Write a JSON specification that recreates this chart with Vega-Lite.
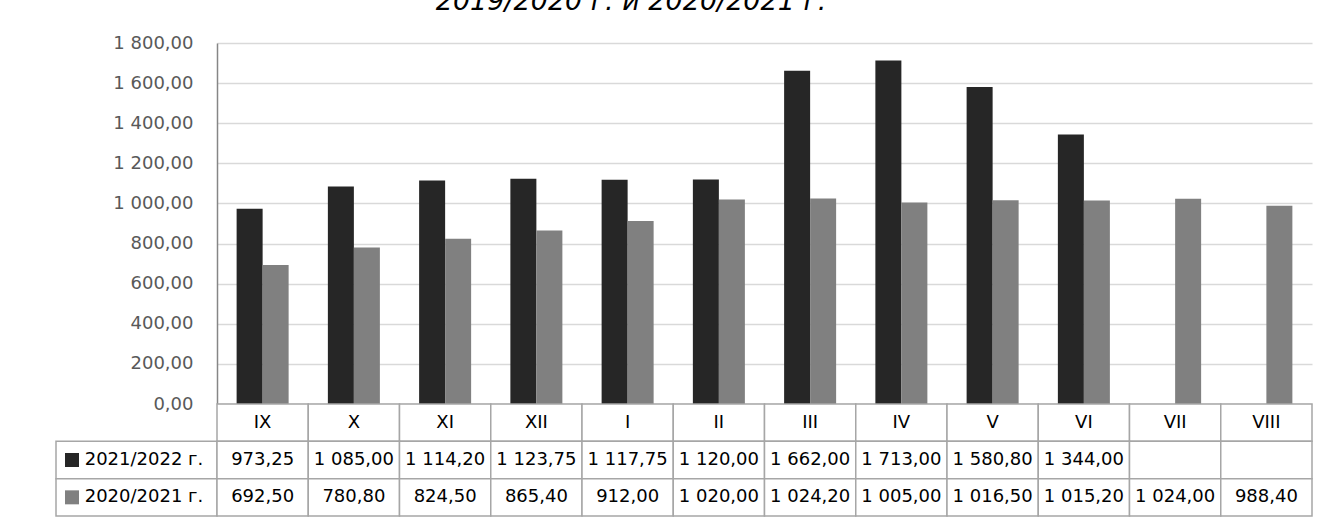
{
  "$schema": "https://vega.github.io/schema/vega-lite/v6.json",
  "padding": {"left": 55, "top": -12, "right": 17, "bottom": 8},
  "title": {
    "text": "2019/2020 г. и 2020/2021 г.",
    "font": "DejaVu Sans",
    "fontSize": 27,
    "fontStyle": "italic",
    "fontWeight": "normal",
    "color": "#000000",
    "anchor": "middle",
    "baseline": "alphabetic",
    "dx": -53,
    "offset": -3
  },
  "datasets": {
    "months": [
      {"month": "IX"}, {"month": "X"}, {"month": "XI"}, {"month": "XII"},
      {"month": "I"}, {"month": "II"}, {"month": "III"}, {"month": "IV"},
      {"month": "V"}, {"month": "VI"}, {"month": "VII"}, {"month": "VIII"}
    ],
    "series": [
      {"series": "2021/2022 г."},
      {"series": "2020/2021 г."}
    ],
    "vals": [
      {"month": "IX", "series": "2021/2022 г.", "value": 973.25},
      {"month": "X", "series": "2021/2022 г.", "value": 1085.00},
      {"month": "XI", "series": "2021/2022 г.", "value": 1114.20},
      {"month": "XII", "series": "2021/2022 г.", "value": 1123.75},
      {"month": "I", "series": "2021/2022 г.", "value": 1117.75},
      {"month": "II", "series": "2021/2022 г.", "value": 1120.00},
      {"month": "III", "series": "2021/2022 г.", "value": 1662.00},
      {"month": "IV", "series": "2021/2022 г.", "value": 1713.00},
      {"month": "V", "series": "2021/2022 г.", "value": 1580.80},
      {"month": "VI", "series": "2021/2022 г.", "value": 1344.00},
      {"month": "VII", "series": "2021/2022 г.", "value": null},
      {"month": "VIII", "series": "2021/2022 г.", "value": null},
      {"month": "IX", "series": "2020/2021 г.", "value": 692.50},
      {"month": "X", "series": "2020/2021 г.", "value": 780.80},
      {"month": "XI", "series": "2020/2021 г.", "value": 824.50},
      {"month": "XII", "series": "2020/2021 г.", "value": 865.40},
      {"month": "I", "series": "2020/2021 г.", "value": 912.00},
      {"month": "II", "series": "2020/2021 г.", "value": 1020.00},
      {"month": "III", "series": "2020/2021 г.", "value": 1024.20},
      {"month": "IV", "series": "2020/2021 г.", "value": 1005.00},
      {"month": "V", "series": "2020/2021 г.", "value": 1016.50},
      {"month": "VI", "series": "2020/2021 г.", "value": 1015.20},
      {"month": "VII", "series": "2020/2021 г.", "value": 1024.00},
      {"month": "VIII", "series": "2020/2021 г.", "value": 988.40}
    ]
  },
  "columns": 2,
  "spacing": 0,
  "bounds": "flush",
  "align": "each",
  "concat": [
    {
      "width": 161,
      "height": 361,
      "data": {"values": []},
      "mark": "point"
    },
    {
      "width": 1095,
      "height": 361,
      "data": {"name": "vals"},
      "mark": {"type": "bar"},
      "encoding": {
        "x": {
          "field": "month",
          "type": "nominal",
          "sort": ["IX", "X", "XI", "XII", "I", "II", "III", "IV", "V", "VI", "VII", "VIII"],
          "scale": {"paddingInner": 0.43, "paddingOuter": 0.215},
          "axis": null
        },
        "xOffset": {
          "field": "series",
          "type": "nominal",
          "sort": ["2021/2022 г.", "2020/2021 г."],
          "scale": {"paddingInner": 0, "paddingOuter": 0}
        },
        "y": {
          "field": "value",
          "type": "quantitative",
          "scale": {"domain": [0, 1800], "nice": false},
          "axis": {
            "title": null,
            "values": [0, 200, 400, 600, 800, 1000, 1200, 1400, 1600, 1800],
            "format": ",.2f",
            "grid": true,
            "gridColor": "#d9d9d9",
            "gridWidth": 1.5,
            "ticks": false,
            "domainColor": "#868686",
            "domainWidth": 1.5,
            "labelFont": "DejaVu Sans",
            "labelFontSize": 18,
            "labelColor": "#595959",
            "labelPadding": 24
          }
        },
        "color": {
          "field": "series",
          "type": "nominal",
          "scale": {"domain": ["2021/2022 г.", "2020/2021 г."], "range": ["#262626", "#808080"]},
          "legend": null
        }
      }
    },
    {
      "width": 161,
      "height": 112,
      "data": {"name": "series"},
      "encoding": {
        "y": {
          "field": "series",
          "type": "nominal",
          "scale": {"domain": ["месяц", "2021/2022 г.", "2020/2021 г."], "paddingInner": 0, "paddingOuter": 0},
          "axis": null
        }
      },
      "layer": [
        {"mark": {"type": "rect", "fill": "white", "stroke": "#a6a6a6", "strokeWidth": 1.5}},
        {
          "mark": {"type": "point", "shape": "square", "filled": true, "size": 196, "opacity": 1, "xOffset": -64.5},
          "encoding": {
            "color": {
              "field": "series",
              "type": "nominal",
              "scale": {"domain": ["2021/2022 г.", "2020/2021 г."], "range": ["#262626", "#808080"]},
              "legend": null
            }
          }
        },
        {
          "mark": {"type": "text", "font": "DejaVu Sans", "fontSize": 18, "color": "#000000", "dx": 7.5},
          "encoding": {"text": {"field": "series"}}
        }
      ]
    },
    {
      "width": 1095,
      "height": 112,
      "layer": [
        {
          "data": {"name": "months"},
          "mark": {"type": "rect", "fill": "white", "stroke": "#a6a6a6", "strokeWidth": 1.5},
          "encoding": {
            "x": {"field": "month", "type": "nominal", "sort": ["IX", "X", "XI", "XII", "I", "II", "III", "IV", "V", "VI", "VII", "VIII"], "scale": {"paddingInner": 0, "paddingOuter": 0}, "axis": null},
            "y": {"datum": "месяц", "type": "nominal", "scale": {"domain": ["месяц", "2021/2022 г.", "2020/2021 г."], "paddingInner": 0, "paddingOuter": 0}, "axis": null}
          }
        },
        {
          "data": {"name": "months"},
          "mark": {"type": "text", "font": "DejaVu Sans", "fontSize": 18, "color": "#000000"},
          "encoding": {
            "x": {"field": "month", "type": "nominal", "sort": ["IX", "X", "XI", "XII", "I", "II", "III", "IV", "V", "VI", "VII", "VIII"]},
            "y": {"datum": "месяц", "type": "nominal"},
            "text": {"field": "month"}
          }
        },
        {
          "data": {"name": "vals"},
          "mark": {"type": "rect", "fill": "white", "stroke": "#a6a6a6", "strokeWidth": 1.5},
          "encoding": {
            "x": {"field": "month", "type": "nominal", "sort": ["IX", "X", "XI", "XII", "I", "II", "III", "IV", "V", "VI", "VII", "VIII"]},
            "y": {"field": "series", "type": "nominal"}
          }
        },
        {
          "data": {"name": "vals"},
          "transform": [{"filter": "isValid(datum.value)"}],
          "mark": {"type": "text", "font": "DejaVu Sans", "fontSize": 18, "color": "#000000"},
          "encoding": {
            "x": {"field": "month", "type": "nominal", "sort": ["IX", "X", "XI", "XII", "I", "II", "III", "IV", "V", "VI", "VII", "VIII"]},
            "y": {"field": "series", "type": "nominal"},
            "text": {"field": "value", "type": "quantitative", "format": ",.2f"}
          }
        }
      ]
    }
  ],
  "config": {
    "view": {"stroke": null},
    "locale": {
      "number": {"decimal": ",", "thousands": " ", "grouping": [3], "currency": ["", ""]}
    }
  }
}
